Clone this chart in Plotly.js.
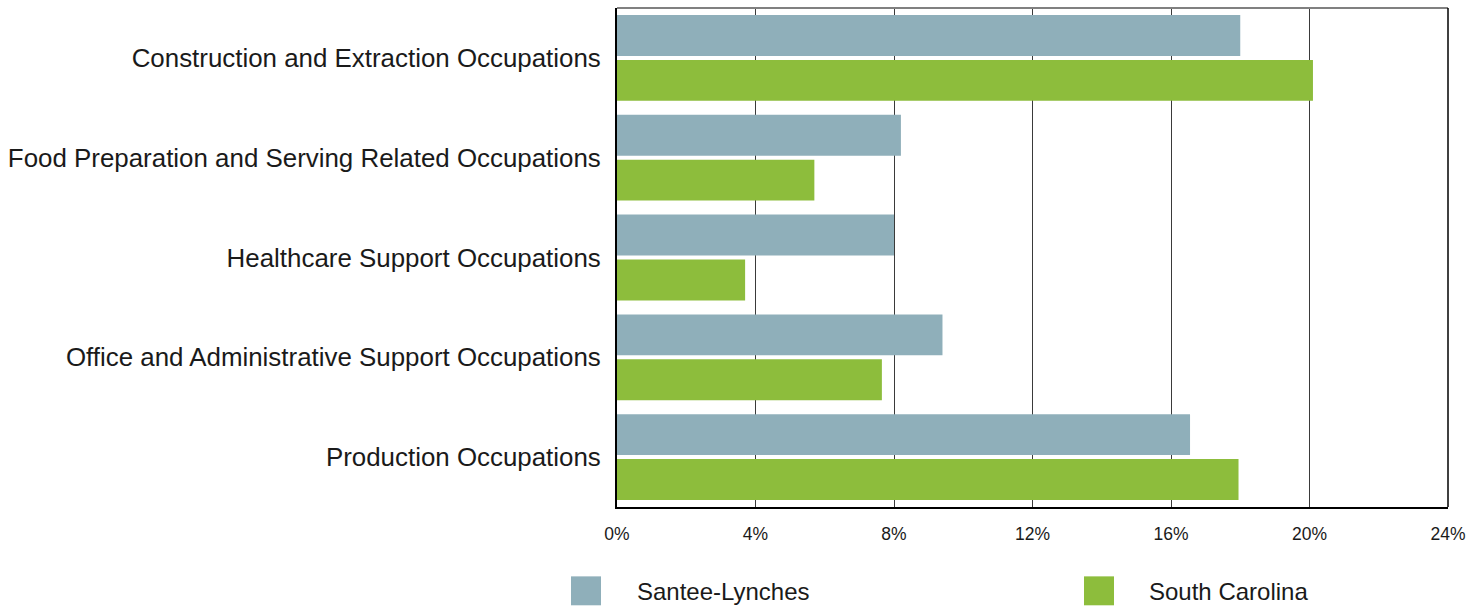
<!DOCTYPE html>
<html>
<head>
<meta charset="utf-8">
<script src="https://cdn.plot.ly/plotly-3.0.1.min.js"></script>
<style>html,body{margin:0;padding:0;background:#fff;}#chart{width:1481px;height:606px;}</style>
</head>
<body>
<div id="chart"></div>
<script>
const categories = [
  "Construction and Extraction Occupations",
  "Food Preparation and Serving Related Occupations",
  "Healthcare Support Occupations",
  "Office and Administrative Support Occupations",
  "Production Occupations"
];
const santeeLynches = [18.0, 8.2, 8.0, 9.4, 16.55];
const southCarolina = [20.1, 5.7, 3.7, 7.65, 17.95];
const seriesNames = ["Santee-Lynches", "South Carolina"];
const seriesColors = ["#8fafba", "#8dbd3c"];
const tickVals = [0, 4, 8, 12, 16, 20, 24];
const tickLabels = ["0%", "4%", "8%", "12%", "16%", "20%", "24%"];

const traces = [santeeLynches, southCarolina].map((vals, i) => ({
  type: "bar",
  orientation: "h",
  name: seriesNames[i],
  y: categories,
  x: vals,
  marker: {color: seriesColors[i]},
  hoverinfo: "skip"
}));

const PL = 617, PR = 1448, PT = 7.5, PB = 507.5;
const px2x = px => (px - PL) / (PR - PL);
const py2y = py => (PB - py) / (PB - PT);

const shapes = [
  {type: "line", xref: "paper", yref: "paper", x0: 0, x1: 1, y0: 1, y1: 1, line: {color: "#808080", width: 2}},
  {type: "line", xref: "paper", yref: "paper", x0: 1, x1: 1, y0: 0, y1: 1, line: {color: "#000", width: 1.5}}
];
const annotations = [];
const legendSquareX = [571, 1084];
const legendTextX = [635, 1147];
seriesNames.forEach((n, i) => {
  shapes.push({type: "rect", xref: "paper", yref: "paper",
    x0: px2x(legendSquareX[i]), x1: px2x(legendSquareX[i] + 30),
    y0: py2y(606), y1: py2y(577),
    fillcolor: seriesColors[i], line: {width: 0}});
  annotations.push({xref: "paper", yref: "paper", x: px2x(legendTextX[i]),
    y: py2y(592), xanchor: "left", yanchor: "middle", showarrow: false,
    text: n, font: {family: "Liberation Sans, Arial, sans-serif", size: 24, color: "#1a1a1a"}});
});

const layout = {
  width: 1481, height: 606,
  margin: {l: PL, r: 1481 - PR, t: PT, b: 606 - PB},
  paper_bgcolor: "#fff", plot_bgcolor: "#fff",
  barmode: "group", bargap: 0.1, bargroupgap: 0.089,
  showlegend: false,
  font: {family: "Liberation Sans, Arial, sans-serif", color: "#1a1a1a"},
  xaxis: {
    range: [0, 24], tickvals: tickVals, ticktext: tickLabels,
    showgrid: true, gridcolor: "#3a3a3a", gridwidth: 1,
    zeroline: false, showline: true, linecolor: "#000", linewidth: 2,
    ticks: "outside", ticklen: 10, tickcolor: "rgba(0,0,0,0)",
    tickfont: {size: 17.5, color: "#1a1a1a"}, fixedrange: true
  },
  yaxis: {
    autorange: "reversed", type: "category",
    showgrid: false, zeroline: false, showline: true, linecolor: "#000", linewidth: 2,
    ticks: "outside", ticklen: 9, tickcolor: "rgba(0,0,0,0)",
    tickfont: {size: 25.9, color: "#1a1a1a"}, fixedrange: true
  },
  shapes: shapes,
  annotations: annotations
};

Plotly.newPlot("chart", traces, layout, {displayModeBar: false, staticPlot: true});
</script>
</body>
</html>
